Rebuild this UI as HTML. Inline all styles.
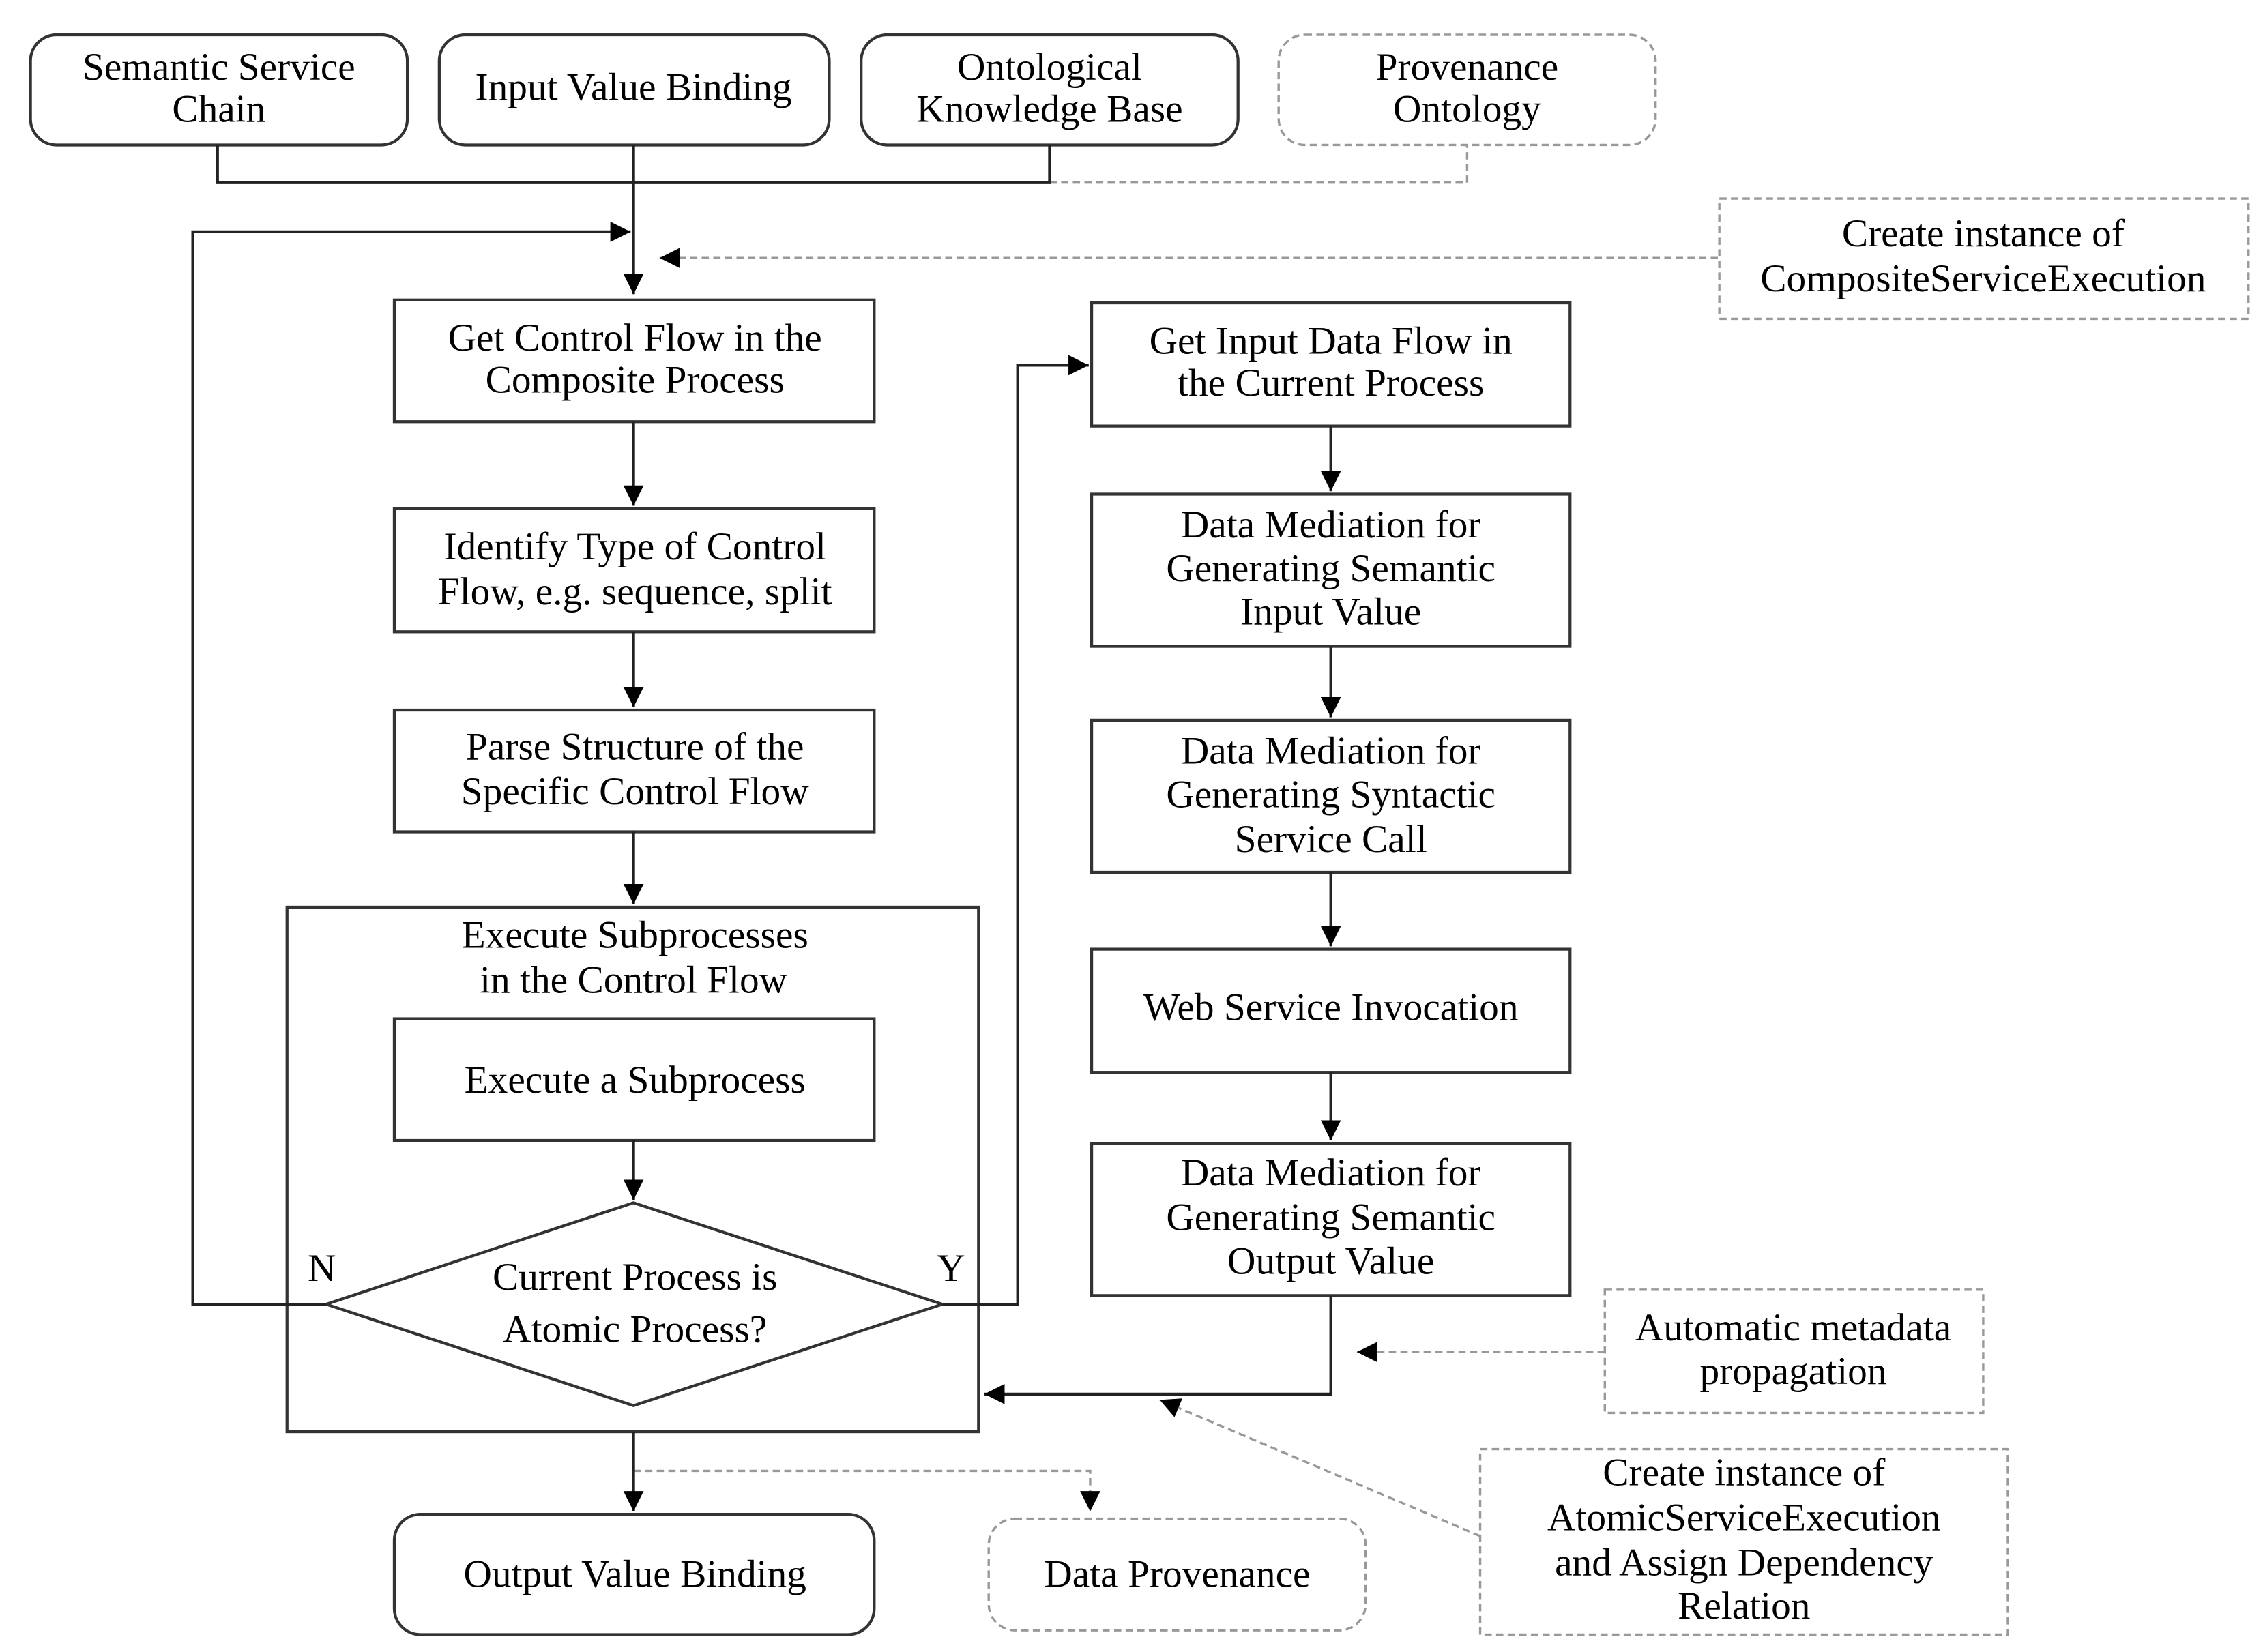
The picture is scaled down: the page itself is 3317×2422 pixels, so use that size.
<!DOCTYPE html>
<html><head><meta charset="utf-8"><style>
html,body{margin:0;padding:0;background:#fff;}
svg{display:block;}
text{font-family:"Liberation Serif",serif;font-size:27px;fill:#000;text-anchor:middle;}
</style></head><body>
<svg width="3317" height="2422" viewBox="0 0 1561 1140" preserveAspectRatio="none" xmlns="http://www.w3.org/2000/svg">
<defs>
<marker id="a" viewBox="0 0 10 10" refX="10" refY="5" markerWidth="14" markerHeight="14" markerUnits="userSpaceOnUse" orient="auto"><path d="M0,0L10,5L0,10z" fill="#000"/></marker>
</defs>
<g fill="none" stroke="#333" stroke-width="2">
<rect x="21" y="24" width="260" height="76" rx="18"/>
<rect x="303" y="24" width="269" height="76" rx="18"/>
<rect x="594" y="24" width="260" height="76" rx="18"/>
<rect x="272" y="207" width="331" height="84"/>
<rect x="272" y="351" width="331" height="85"/>
<rect x="272" y="490" width="331" height="84"/>
<rect x="198" y="626" width="477" height="362"/>
<rect x="272" y="703" width="331" height="84"/>
<path d="M437,830L650,900L437,970L225,900Z"/>
<rect x="753" y="209" width="330" height="85"/>
<rect x="753" y="341" width="330" height="105"/>
<rect x="753" y="497" width="330" height="105"/>
<rect x="753" y="655" width="330" height="85"/>
<rect x="753" y="789" width="330" height="105"/>
<rect x="272" y="1045" width="331" height="83" rx="18"/>
</g>
<g fill="none" stroke="#999" stroke-width="1.6" stroke-dasharray="5,3">
<rect x="882" y="24" width="260" height="76" rx="18"/>
<rect x="1186" y="137" width="365" height="83"/>
<rect x="1107" y="890" width="261" height="85"/>
<rect x="1021" y="1000" width="364" height="128"/>
<rect x="682" y="1048" width="260" height="77" rx="18"/>
<path d="M724,126H1012V100"/>
<path d="M1185,178H455" marker-end="url(#a)"/>
<path d="M1107,933H936" marker-end="url(#a)"/>
<path d="M1021,1060L800,966" marker-end="url(#a)"/>
<path d="M437,1015H752V1043" marker-end="url(#a)"/>
</g>
<g fill="none" stroke="#222" stroke-width="2">
<path d="M150,100V126H724V100"/>
<path d="M437,100V203" marker-end="url(#a)"/>
<path d="M225,900H133V160H435" marker-end="url(#a)"/>
<path d="M437,291V349" marker-end="url(#a)"/>
<path d="M437,436V488" marker-end="url(#a)"/>
<path d="M437,574V624" marker-end="url(#a)"/>
<path d="M437,787V828" marker-end="url(#a)"/>
<path d="M650,900H702V252H751" marker-end="url(#a)"/>
<path d="M918,294V339" marker-end="url(#a)"/>
<path d="M918,446V495" marker-end="url(#a)"/>
<path d="M918,602V653" marker-end="url(#a)"/>
<path d="M918,740V787" marker-end="url(#a)"/>
<path d="M918,894V962H679" marker-end="url(#a)"/>
<path d="M437,988V1043" marker-end="url(#a)"/>
</g>
<text x="151" y="55">Semantic Service</text><text x="151" y="84">Chain</text>
<text x="437" y="69">Input Value Binding</text>
<text x="724" y="55">Ontological</text><text x="724" y="84">Knowledge Base</text>
<text x="1012" y="55">Provenance</text><text x="1012" y="84">Ontology</text>
<text x="1368" y="170">Create instance of</text><text x="1368" y="201">CompositeServiceExecution</text>
<text x="438" y="242">Get Control Flow in the</text><text x="438" y="271">Composite Process</text>
<text x="438" y="386">Identify Type of Control</text><text x="438" y="417">Flow, e.g. sequence, split</text>
<text x="438" y="524">Parse Structure of the</text><text x="438" y="555">Specific Control Flow</text>
<text x="438" y="654">Execute Subprocesses</text><text x="437" y="685">in the Control Flow</text>
<text x="438" y="754">Execute a Subprocess</text>
<text x="438" y="890">Current Process is</text><text x="438" y="926">Atomic Process?</text>
<text x="222" y="884">N</text><text x="656" y="884">Y</text>
<text x="918" y="244">Get Input Data Flow in</text><text x="918" y="273">the Current Process</text>
<text x="918" y="371">Data Mediation for</text><text x="918" y="401">Generating Semantic</text><text x="918" y="431">Input Value</text>
<text x="918" y="527">Data Mediation for</text><text x="918" y="557">Generating Syntactic</text><text x="918" y="588">Service Call</text>
<text x="918" y="704">Web Service Invocation</text>
<text x="918" y="818">Data Mediation for</text><text x="918" y="849">Generating Semantic</text><text x="918" y="879">Output Value</text>
<text x="1237" y="925">Automatic metadata</text><text x="1237" y="955">propagation</text>
<text x="1203" y="1025">Create instance of</text><text x="1203" y="1056">AtomicServiceExecution</text><text x="1203" y="1087">and Assign Dependency</text><text x="1203" y="1117">Relation</text>
<text x="438" y="1095">Output Value Binding</text>
<text x="812" y="1095">Data Provenance</text>
</svg>
</body></html>
